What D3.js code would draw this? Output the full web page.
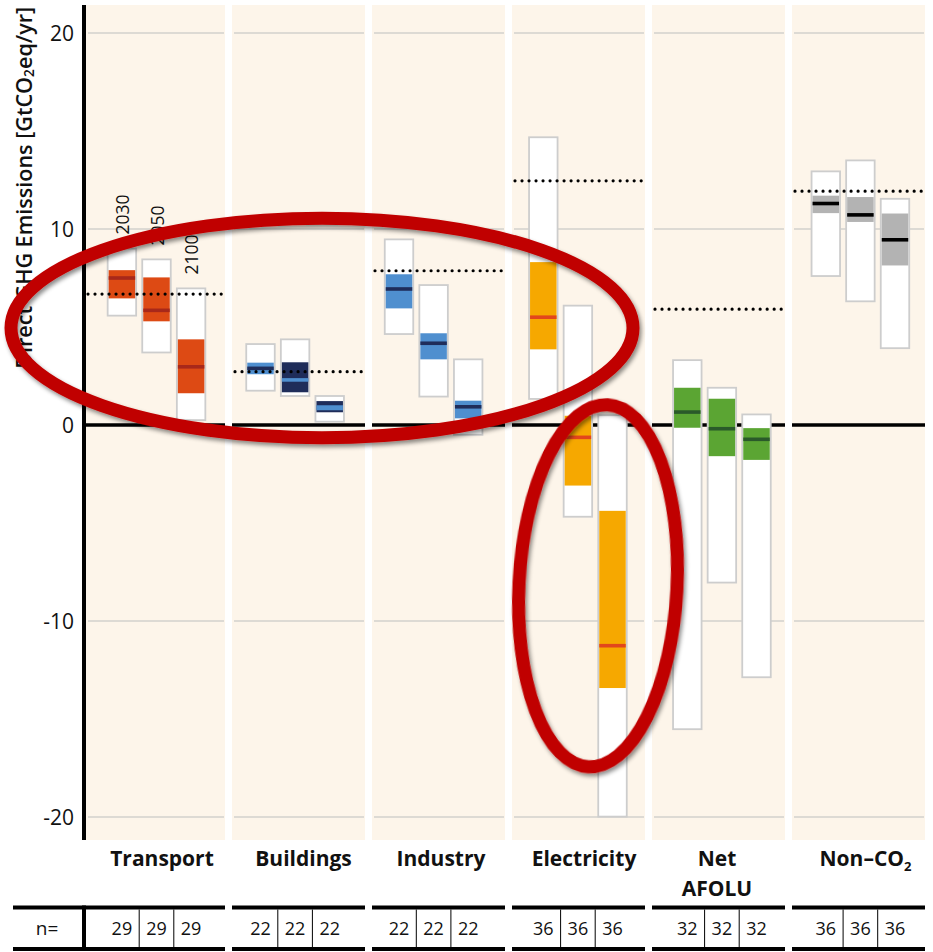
<!DOCTYPE html>
<html>
<head>
<meta charset="utf-8">
<script src="https://cdn.jsdelivr.net/npm/d3@7"></script>
<style>
  html, body { margin: 0; padding: 0; background: #ffffff; }
  svg { display: block; }
  text { font-family: "Open Sans", Roboto, "Noto Sans", sans-serif; fill: #111; }
</style>
</head>
<body>
<svg id="chart" width="933" height="952"></svg>
<script>
// ---------------- DATA ----------------
const sectors = ["Transport", "Buildings", "Industry", "Electricity", "Net AFOLU", "Non–CO2"];
const years = ["2030", "2050", "2100"];
// full range (white boxes)
const rangeMax = [
  [9.0, 8.45, 6.97],
  [4.13, 4.37, 1.48],
  [9.47, 7.14, 3.35],
  [14.68, 6.09, 0.5],
  [3.31, 1.9, 0.54],
  [12.94, 13.5, 11.54]
];
const rangeMin = [
  [5.58, 3.7, 0.25],
  [1.75, 1.48, 0.17],
  [4.64, 1.45, -0.5],
  [1.33, -4.68, -19.98],
  [-15.52, -8.04, -12.87],
  [7.6, 6.31, 3.92]
];
// interquartile range (coloured boxes)
const q75 = [
  [7.9, 7.53, 4.37],
  [3.18, 3.2, 1.22],
  [7.69, 4.68, 1.24],
  [8.31, 0.47, -4.38],
  [1.9, 1.34, -0.16],
  [11.7, 11.63, 10.79]
];
const q25 = [
  [6.46, 5.29, 1.62],
  [2.59, 1.67, 0.65],
  [5.95, 3.35, 0.34],
  [3.86, -3.09, -13.42],
  [-0.14, -1.59, -1.78],
  [10.81, 10.36, 8.14]
];
const medians = [
  [7.5, 5.85, 2.97],
  [2.89, 2.3, 0.88],
  [6.94, 4.17, 0.93],
  [5.5, -0.63, -11.26],
  [0.66, -0.19, -0.73],
  [11.3, 10.72, 9.45]
];
// 2010 emissions (dotted lines)
const emissions2010 = [6.68, 2.72, 7.87, 12.46, 5.91, 11.93];
// number of scenarios
const nScenarios = [
  [29, 29, 29],
  [22, 22, 22],
  [22, 22, 22],
  [36, 36, 36],
  [32, 32, 32],
  [36, 36, 36]
];
const yTicks = [20, 10, 0, -10, -20];

// ---------------- STYLES ----------------
const boxFill = [
  ["#dd4a14", "#dd4a14", "#dd4a14"],
  ["#4f8fcf", "#1f2d5a", "#1f2d5a"],
  ["#4f8fcf", "#4f8fcf", "#4f8fcf"],
  ["#f6a800", "#f6a800", "#f6a800"],
  ["#5ba533", "#5ba533", "#5ba533"],
  ["#b3b3b3", "#b3b3b3", "#b3b3b3"]
];
const medianColor = [
  ["#a8281a", "#a8281a", "#a8281a"],
  ["#1f2d5a", "#4f8fcf", "#4f8fcf"],
  ["#1f2d5a", "#1f2d5a", "#1f2d5a"],
  ["#e2461c", "#e2461c", "#e2461c"],
  ["#2a5a2a", "#2a5a2a", "#2a5a2a"],
  ["#000000", "#000000", "#000000"]
];
const panelColor = "#fdf5ea";
const gridColor = "#d2d0cd";

// ---------------- LAYOUT ----------------
const W = 933, H = 952;
const axisX = 84;
const panelTop = 5, panelBottom = 840;
const boxShift = [29.9, 28.5, 27, 31.3, 35.3, 33.8];  // first box centre from panel left
const boxStep = 34.6, boxW = 28.5;
const labelShift = [3.5, 5, 2.5, 5.5, -1.5, 7];

const svg = d3.select("#chart");

const defs = svg.append("defs");
const f = defs.append("filter").attr("id", "shadow")
  .attr("x", "-20%").attr("y", "-20%").attr("width", "140%").attr("height", "140%");
f.append("feDropShadow").attr("dx", 2).attr("dy", 3).attr("stdDeviation", 2.2)
  .attr("flood-color", "#000").attr("flood-opacity", 0.45);

const y = d3.scaleLinear().domain([-20, 20]).range([817, 33]);
const x = d3.scaleBand().domain(sectors).range([88.5, 928.5])
  .paddingInner(0.05).paddingOuter(0.025);
const boxX = (si, yi) => x(sectors[si]) + boxShift[si] + yi * boxStep;

// panels
const panels = svg.append("g");
sectors.forEach((s, i) => {
  const left = i === 0 ? axisX + 2 : x(s);
  const right = x(s) + x.bandwidth();
  panels.append("rect")
    .attr("x", left).attr("y", panelTop)
    .attr("width", right - left).attr("height", panelBottom - panelTop)
    .attr("fill", panelColor);
  yTicks.filter(t => t !== 0).forEach(t => {
    panels.append("line")
      .attr("x1", left + 2).attr("x2", right - 1)
      .attr("y1", y(t)).attr("y2", y(t))
      .attr("stroke", gridColor).attr("stroke-width", 1.6);
  });
  panels.append("line")
    .attr("x1", left).attr("x2", right)
    .attr("y1", y(0)).attr("y2", y(0))
    .attr("stroke", "#000").attr("stroke-width", 3.4);
});

// y axis
svg.append("line")
  .attr("x1", axisX).attr("x2", axisX)
  .attr("y1", panelTop).attr("y2", panelBottom)
  .attr("stroke", "#000").attr("stroke-width", 4);

svg.append("g").selectAll("text").data(yTicks).join("text")
  .attr("x", axisX - 10).attr("y", d => y(d))
  .attr("text-anchor", "end").attr("dominant-baseline", "central")
  .attr("font-size", 21)
  .text(d => d);

// y label
const yl = svg.append("text")
  .attr("transform", `translate(23, ${y(12.1)}) rotate(-90)`)
  .attr("text-anchor", "middle").attr("dominant-baseline", "central")
  .attr("font-size", 22).attr("font-weight", 600)
  .attr("textLength", 362).attr("lengthAdjust", "spacingAndGlyphs");
yl.append("tspan").text("Direct GHG Emissions [GtCO");
yl.append("tspan").attr("font-size", 14).attr("dy", 5).text("2");
yl.append("tspan").attr("dy", -5).text("eq/yr]");

// boxes
const boxes = svg.append("g");
sectors.forEach((s, si) => {
  years.forEach((yr, yi) => {
    const cx = boxX(si, yi);
    const g = boxes.append("g");
    g.append("rect")
      .attr("x", cx - boxW / 2).attr("width", boxW)
      .attr("y", y(rangeMax[si][yi]))
      .attr("height", y(rangeMin[si][yi]) - y(rangeMax[si][yi]))
      .attr("fill", "#fff").attr("stroke", "#cdcdcd").attr("stroke-width", 1.8);
    g.append("rect")
      .attr("x", cx - boxW / 2 + 1).attr("width", boxW - 2)
      .attr("y", y(q75[si][yi]))
      .attr("height", y(q25[si][yi]) - y(q75[si][yi]))
      .attr("fill", boxFill[si][yi]);
    g.append("line")
      .attr("x1", cx - boxW / 2 + 1).attr("x2", cx + boxW / 2 - 1)
      .attr("y1", y(medians[si][yi])).attr("y2", y(medians[si][yi]))
      .attr("stroke", medianColor[si][yi]).attr("stroke-width", si === 1 && yi === 2 ? 5 : 3.6);
  });
});

// dotted 2010 lines
sectors.forEach((s, i) => {
  const left = i === 0 ? axisX + 4 : x(s) + 3;
  const right = x(s) + x.bandwidth() - 1;
  svg.append("line")
    .attr("x1", left).attr("x2", right)
    .attr("y1", y(emissions2010[i])).attr("y2", y(emissions2010[i]))
    .attr("stroke", "#000").attr("stroke-width", 3.2)
    .attr("stroke-linecap", "round")
    .attr("stroke-dasharray", "0.01 7");
});

// year labels (Transport only)
years.forEach((yr, yi) => {
  svg.append("text")
    .attr("transform", `translate(${boxX(0, yi)}, ${y(rangeMax[0][yi]) - 14}) rotate(-90)`)
    .attr("text-anchor", "start").attr("dominant-baseline", "central")
    .attr("font-size", 19).attr("textLength", 40).attr("lengthAdjust", "spacingAndGlyphs")
    .text(yr);
});

// category labels
sectors.forEach((s, i) => {
  const cx = x(s) + x.bandwidth() / 2 + labelShift[i];
  const t = svg.append("text")
    .attr("x", cx).attr("y", 866)
    .attr("text-anchor", "middle")
    .attr("font-size", 21).attr("font-weight", 700);
  if (s === "Net AFOLU") {
    t.append("tspan").attr("x", cx).text("Net");
    t.append("tspan").attr("x", cx).attr("dy", 30).text("AFOLU");
  } else if (s === "Non–CO2") {
    t.append("tspan").text("Non–CO");
    t.append("tspan").attr("font-size", 13).attr("dy", 5).text("2");
  } else {
    t.text(s);
  }
});

// n= table
const tbl = svg.append("g");
const tTop = 907.5, tBot = 949;
sectors.forEach((s, i) => {
  const left = i === 0 ? 13 : x(s);
  const right = x(s) + x.bandwidth();
  [tTop, tBot].forEach(yy => {
    tbl.append("line").attr("x1", left).attr("x2", right)
      .attr("y1", yy).attr("y2", yy)
      .attr("stroke", "#000").attr("stroke-width", 4);
  });
  [0, 1].forEach(k => {
    const dx = (boxX(i, k) + boxX(i, k + 1)) / 2;
    tbl.append("line").attr("x1", dx).attr("x2", dx)
      .attr("y1", tTop + 2).attr("y2", tBot - 2)
      .attr("stroke", "#000").attr("stroke-width", 1);
  });
  years.forEach((yr, yi) => {
    tbl.append("text")
      .attr("x", boxX(i, yi)).attr("y", (tTop + tBot) / 2)
      .attr("text-anchor", "middle").attr("dominant-baseline", "central")
      .attr("font-size", 18)
      .text(nScenarios[i][yi]);
  });
});
tbl.append("line").attr("x1", axisX).attr("x2", axisX)
  .attr("y1", tTop - 2).attr("y2", tBot + 2)
  .attr("stroke", "#000").attr("stroke-width", 4);
tbl.append("text").attr("x", 47).attr("y", (tTop + tBot) / 2)
  .attr("text-anchor", "middle").attr("dominant-baseline", "central")
  .attr("font-size", 19).text("n=");

// red annotation ellipses
const ann = svg.append("g").attr("filter", "url(#shadow)");
const e1Left = axisX - 73, e1Right = x("Electricity") + 121;
ann.append("ellipse")
  .attr("cx", (e1Left + e1Right) / 2).attr("cy", y(4.95))
  .attr("rx", (e1Right - e1Left) / 2).attr("ry", y(0) - y(5.6))
  .attr("fill", "none").attr("stroke", "#c00000").attr("stroke-width", 13);
const e2cx = x("Electricity") + 86, e2cy = y(-8.2);
ann.append("ellipse")
  .attr("cx", e2cx).attr("cy", e2cy)
  .attr("rx", 79).attr("ry", y(0) - y(9.25))
  .attr("transform", `rotate(3, ${e2cx}, ${e2cy})`)
  .attr("fill", "none").attr("stroke", "#c00000").attr("stroke-width", 13);
</script>
</body>
</html>
